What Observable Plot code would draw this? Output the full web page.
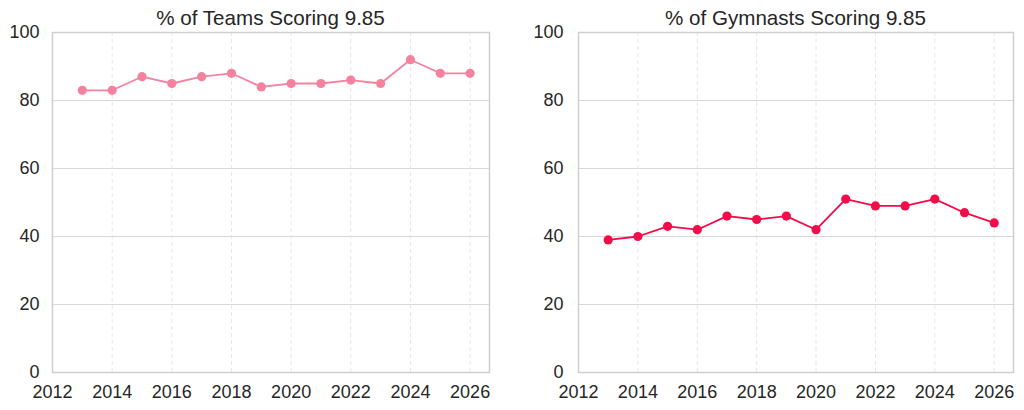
<!DOCTYPE html>
<html>
<head>
<meta charset="utf-8">
<script src="https://cdn.jsdelivr.net/npm/d3@7"></script>
<script src="https://cdn.jsdelivr.net/npm/@observablehq/plot@0.6"></script>
<style>
  html, body { margin: 0; padding: 0; background: #fff; }
  body { width: 1024px; height: 410px; overflow: hidden; font-family: "Liberation Sans", Arial, sans-serif; }
  #wrap { display: flex; width: 1024px; }
  .panel { width: 512px; }
  .panel svg { overflow: visible; }
  .title { height: 28px; line-height: 28px; font-size: 20.6px; color: #262626; text-align: center; position: relative; top: 4px; white-space: nowrap; }
</style>
</head>
<body>
<div id="wrap"></div>
<script>
const years = [2013, 2014, 2015, 2016, 2017, 2018, 2019, 2020, 2021, 2022, 2023, 2024, 2025, 2026];
const teamsPct = [83, 83, 87, 85, 87, 88, 84, 85, 85, 86, 85, 92, 88, 88];
const gymnastsPct = [39, 40, 43, 42, 46, 45, 46, 42, 51, 49, 49, 51, 47, 44];
const xTicks = [2012, 2014, 2016, 2018, 2020, 2022, 2024, 2026];
const yTicks = [0, 20, 40, 60, 80, 100];
const titles = ["% of Teams Scoring 9.85", "% of Gymnasts Scoring 9.85"];
const colors = ["#f4829f", "#f20c49"];

const panels = [
  {title: titles[0], values: teamsPct, color: colors[0], ml: 52, mr: 23, pad: 13},
  {title: titles[1], values: gymnastsPct, color: colors[1], ml: 66, mr: 11, pad: 15}
];

const wrap = document.getElementById("wrap");
for (const p of panels) {
  const data = years.map((y, i) => ({year: y, value: p.values[i]}));
  const div = document.createElement("div");
  div.className = "panel";
  const t = document.createElement("div");
  t.className = "title";
  t.style.paddingLeft = p.ml + "px";
  t.style.paddingRight = p.mr + "px";
  t.textContent = p.title;
  div.appendChild(t);
  const chart = Plot.plot({
    width: 512,
    height: 382,
    marginTop: 4,
    marginBottom: 38,
    marginLeft: p.ml,
    marginRight: p.mr,
    style: {fontSize: "18px", fontFamily: "'Liberation Sans', Arial, sans-serif", color: "#262626", background: "#fff", overflow: "visible"},
    x: {domain: [2012, 2026.65], ticks: xTicks, tickFormat: d => String(d), label: null},
    y: {domain: [0, 100], ticks: yTicks, label: null},
    marks: [
      Plot.ruleX(xTicks.slice(1), {stroke: "#e6e6e6", strokeWidth: 1, strokeDasharray: "4,3"}),
      Plot.ruleY(yTicks, {stroke: "#d8d8d8", strokeWidth: 1.2}),
      Plot.frame({stroke: "#cfcfcf", strokeWidth: 1.5}),
      Plot.axisX({ticks: xTicks, tickSize: 0, tickPadding: 13, tickFormat: d => String(d), label: null}),
      Plot.axisY({ticks: yTicks, tickSize: 0, tickPadding: p.pad, label: null}),
      Plot.line(data, {x: "year", y: "value", stroke: p.color, strokeWidth: 1.8}),
      Plot.dot(data, {x: "year", y: "value", fill: p.color, r: 4.6})
    ]
  });
  div.appendChild(chart);
  wrap.appendChild(div);
}
</script>
</body>
</html>
